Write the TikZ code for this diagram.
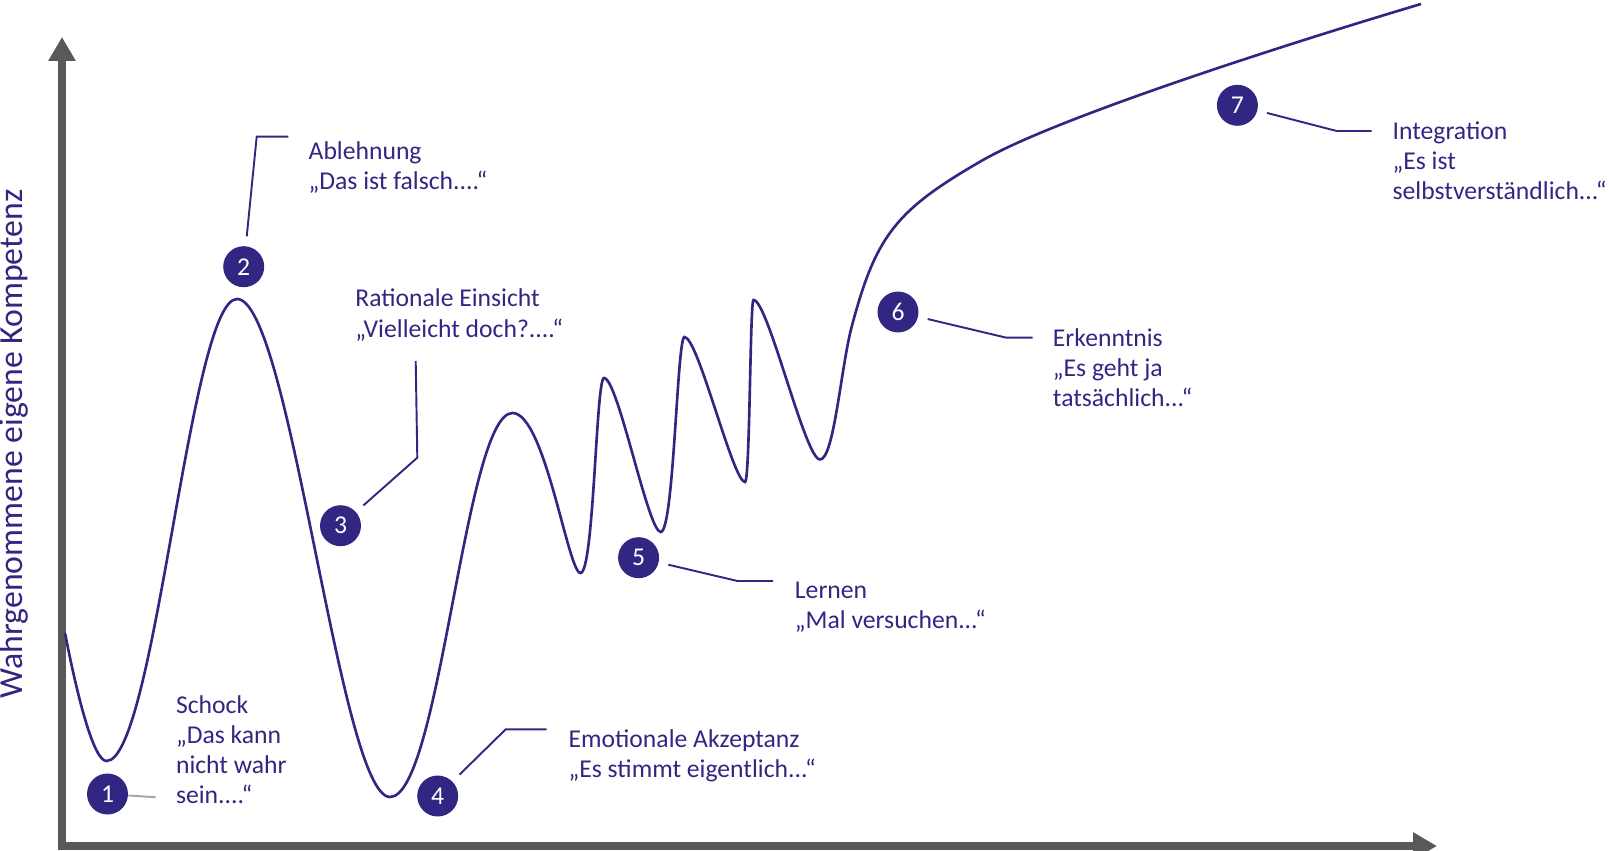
\documentclass[tikz,border=0pt]{standalone}
\usepackage{fontspec}
\setmainfont{Carlito}
\usepackage{tikz}
\usetikzlibrary{arrows.meta}
\definecolor{PhaseIndigo}{HTML}{312783}
\definecolor{AxisGray}{HTML}{595959}
\definecolor{LeaderGray}{HTML}{A6A6A6}

\begin{document}
\begin{tikzpicture}[x=0.02cm,y=-0.02cm,
  font=\fontsize{14.6}{17.1}\selectfont,
  phase/.style={circle,fill=PhaseIndigo,text=white,minimum size=0.82cm,inner sep=0pt},
  stage/.style={anchor=west,align=left,inner sep=0pt,text=PhaseIndigo},
  leader/.style={PhaseIndigo,line width=1.1pt,shorten <=5.5pt},
  axisarrow/.style={AxisGray,line width=4.3pt,
    {Triangle[length=0.48cm,width=0.52cm]}-{Triangle[length=0.48cm,width=0.52cm]}}]
  \useasboundingbox (0,0) rectangle (1609,851);
  % axes
  \draw[axisarrow] (62,37) -- (62,846) -- (1437,846);
  \node[rotate=90,text=PhaseIndigo,font=\fontsize{19.2}{23}\selectfont] (ylab) at (13.5,444) {Wahrgenommene eigene Kompetenz};
  % curve
  \draw[PhaseIndigo,line width=1.5pt] (65,633)
    .. controls (78,700) and (94,761) .. (106.5,761)
    .. controls (155,761) and (190,299) .. (237,299)
    .. controls (290,299) and (340,797) .. (390,797)
    .. controls (440,797) and (465,413) .. (512.5,413)
    .. controls (545,413) and (568,573) .. (580.5,573)
    .. controls (594,573) and (596,378) .. (604,378)
    .. controls (618,378) and (648,532) .. (660.7,532)
    .. controls (674,532) and (677,337) .. (684.5,337)
    .. controls (698,337) and (733,482) .. (745,482)
    .. controls (750,482) and (750,300) .. (753.5,300)
    .. controls (768,300) and (805,459.5) .. (820,459.5)
    .. controls (834,459.5) and (841,366.7) .. (851.7,326.7)
    .. controls (876,235) and (896,210) .. (983,160)
    .. controls (1060,116) and (1300,40) .. (1421,4);
  % phases
  \node[phase] (c1) at (107.5,794) {1};
  \node[phase] (c2) at (243.7,266.7) {2};
  \node[phase] (c3) at (340.5,525.7) {3};
  \node[phase] (c4) at (437.7,796) {4};
  \node[phase] (c5) at (638.6,557.7) {5};
  \node[phase] (c6) at (898,312) {6};
  \node[phase] (c7) at (1237.4,105.3) {7};
  % labels
  \node[stage] (l1) at (175.7,750) {Schock\\„Das kann\\nicht wahr\\sein....“};
  \node[stage] (l2) at (308.3,167.7) {Ablehnung\\„Das ist falsch....“};
  \node[stage] (l3) at (355,315) {Rationale Einsicht\\„Vielleicht doch?....“};
  \node[stage] (l4) at (568.3,756) {Emotionale Akzeptanz\\„Es stimmt eigentlich...“};
  \node[stage] (l5) at (794.6,607.5) {Lernen\\„Mal versuchen...“};
  \node[stage] (l6) at (1052.6,367.7) {Erkenntnis\\„Es geht ja\\tatsächlich...“};
  \node[stage] (l7) at (1392.3,161) {Integration\\„Es ist\\selbstverständlich...“};
  % leaders
  \coordinate (e1) at (155.7,797.3);
  \coordinate (b2) at (256.7,136.7);
  \coordinate (e2) at (288.3,136.7);
  \coordinate (b3) at (417.3,457.7);
  \coordinate (e3) at (415.7,361);
  \coordinate (b4) at (505.7,729.3);
  \coordinate (e4) at (546.7,729.3);
  \coordinate (b5) at (737.5,581);
  \coordinate (e5) at (773.2,581);
  \coordinate (b6) at (1006.4,337.7);
  \coordinate (e6) at (1032.7,337.7);
  \coordinate (b7) at (1336.7,131);
  \coordinate (e7) at (1371.5,131);
  \draw[leader,LeaderGray,shorten <=0pt] (c1) -- (e1);
  \draw[leader] (c2) -- (b2) -- (e2);
  \draw[leader] (c3) -- (b3) -- (e3);
  \draw[leader] (c4) -- (b4) -- (e4);
  \draw[leader] (c5) -- (b5) -- (e5);
  \draw[leader] (c6) -- (b6) -- (e6);
  \draw[leader] (c7) -- (b7) -- (e7);
\end{tikzpicture}
\end{document}
